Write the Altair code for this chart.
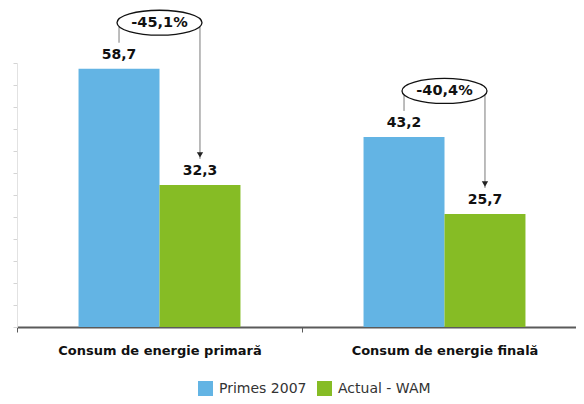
import altair as alt
import pandas as pd

categories = ["Consum de energie primară", "Consum de energie finală"]
series = ["Primes 2007", "Actual - WAM"]
primes_values = [58.7, 43.2]
actual_values = [32.3, 25.7]
change_labels = ["-45,1%", "-40,4%"]
y_ticks = [0, 5, 10, 15, 20, 25, 30, 35, 40, 45, 50, 55, 60]

colors = ["#63B4E4", "#86BC25"]
FONT = "DejaVu Sans"

bars_df = pd.DataFrame(
    [{"category": c, "series": series[0], "value": v} for c, v in zip(categories, primes_values)]
    + [{"category": c, "series": series[1], "value": v} for c, v in zip(categories, actual_values)]
)

# connector lines: left line over the Primes bar, right line from ellipse level down to the Actual bar
lines_df = pd.DataFrame(
    [{"category": c, "series": series[0], "ystart": p, "yend": p} for c, p in zip(categories, primes_values)]
    + [{"category": c, "series": series[1], "ystart": p, "yend": a} for c, p, a in zip(categories, primes_values, actual_values)]
)
arrow_df = pd.DataFrame(
    [{"category": c, "series": series[1], "value": a} for c, a in zip(categories, actual_values)]
)
ellipse_df = pd.DataFrame(
    [{"category": c, "value": p, "label": l} for c, p, l in zip(categories, primes_values, change_labels)]
)

x_enc = alt.X(
    "category:N",
    sort=categories,
    scale=alt.Scale(paddingInner=0, paddingOuter=0),
    axis=alt.Axis(
        title=None, labelAngle=0, labelFont=FONT, labelFontSize=13, labelFontWeight="bold",
        labelColor="#111111", domainColor="#5a5a5a", domainWidth=2, tickColor="#5a5a5a",
        tickSize=5, tickBand="extent", labelPadding=12, labelLimit=400,
    ),
)
xoff = alt.XOffset("series:N", sort=series, scale=alt.Scale(paddingInner=0, paddingOuter=0.76))
y_scale = alt.Scale(domain=[0, 60], nice=False)
y_axis = alt.Axis(title=None, labels=False, values=y_ticks, grid=False,
                  domainColor="#e2e2e2", tickColor="#d4d4d4", tickSize=4)


def yenc(field):
    return alt.Y(field, scale=y_scale, axis=y_axis)


bars = alt.Chart(bars_df).mark_bar().encode(
    x=x_enc,
    xOffset=xoff,
    y=yenc("value:Q"),
    color=alt.Color(
        "series:N", sort=series, scale=alt.Scale(domain=series, range=colors),
        legend=alt.Legend(
            title=None, orient="none", legendX=181, legendY=318, direction="horizontal",
            symbolType="square", symbolSize=225, symbolStrokeWidth=0, labelFont=FONT,
            labelFontSize=14, labelColor="#333333", columnPadding=10, labelOffset=6, padding=0,
        ),
    ),
)

value_text = alt.Chart(bars_df).transform_calculate(
    lbl="replace(format(datum.value, '.1f'), '.', ',')"
).mark_text(font=FONT, fontSize=14, fontWeight="bold", color="#111111", dy=-14).encode(
    x=x_enc, xOffset=xoff, y=yenc("value:Q"), text="lbl:N"
)

rules = alt.Chart(lines_df).mark_rule(color="#7a7a7a", strokeWidth=1, yOffset=-46, y2Offset=-26).encode(
    x=x_enc, xOffset=xoff,
    y=yenc("ystart:Q"), y2="yend:Q",
)

arrows = alt.Chart(arrow_df).mark_point(
    shape="triangle-down", filled=True, color="#222222", size=40, opacity=1, yOffset=-30
).encode(x=x_enc, xOffset=xoff, y=yenc("value:Q"))

k = 0.294
c = 0.5523
ell_path = (
    f"M -1 0 C -1 {-c*k:.4f} {-c:.4f} {-k} 0 {-k} "
    f"C {c:.4f} {-k} 1 {-c*k:.4f} 1 0 "
    f"C 1 {c*k:.4f} {c:.4f} {k} 0 {k} "
    f"C {-c:.4f} {k} -1 {c*k:.4f} -1 0 Z"
)
ellipses = alt.Chart(ellipse_df).mark_point(
    shape=ell_path, size=7225, filled=False, fill="white", fillOpacity=1,
    stroke="#111111", strokeWidth=1.3, opacity=1, yOffset=-46,
).encode(x=x_enc, y=yenc("value:Q"))

pct_text = alt.Chart(ellipse_df).mark_text(
    font=FONT, fontSize=14.5, fontWeight="bold", color="#111111", yOffset=-46, baseline="middle"
).encode(x=x_enc, y=yenc("value:Q"), text="label:N")

chart = alt.layer(bars, value_text, rules, arrows, ellipses, pct_text).properties(
    width=570, height=264,
    background="white",
    autosize=alt.AutoSizeParams(type="none"),
    padding={"left": 9, "top": 55, "right": -11, "bottom": 69},
).configure_view(stroke="transparent", strokeWidth=0)

chart.save("out.html", embed_options={"renderer": "svg", "actions": False})
